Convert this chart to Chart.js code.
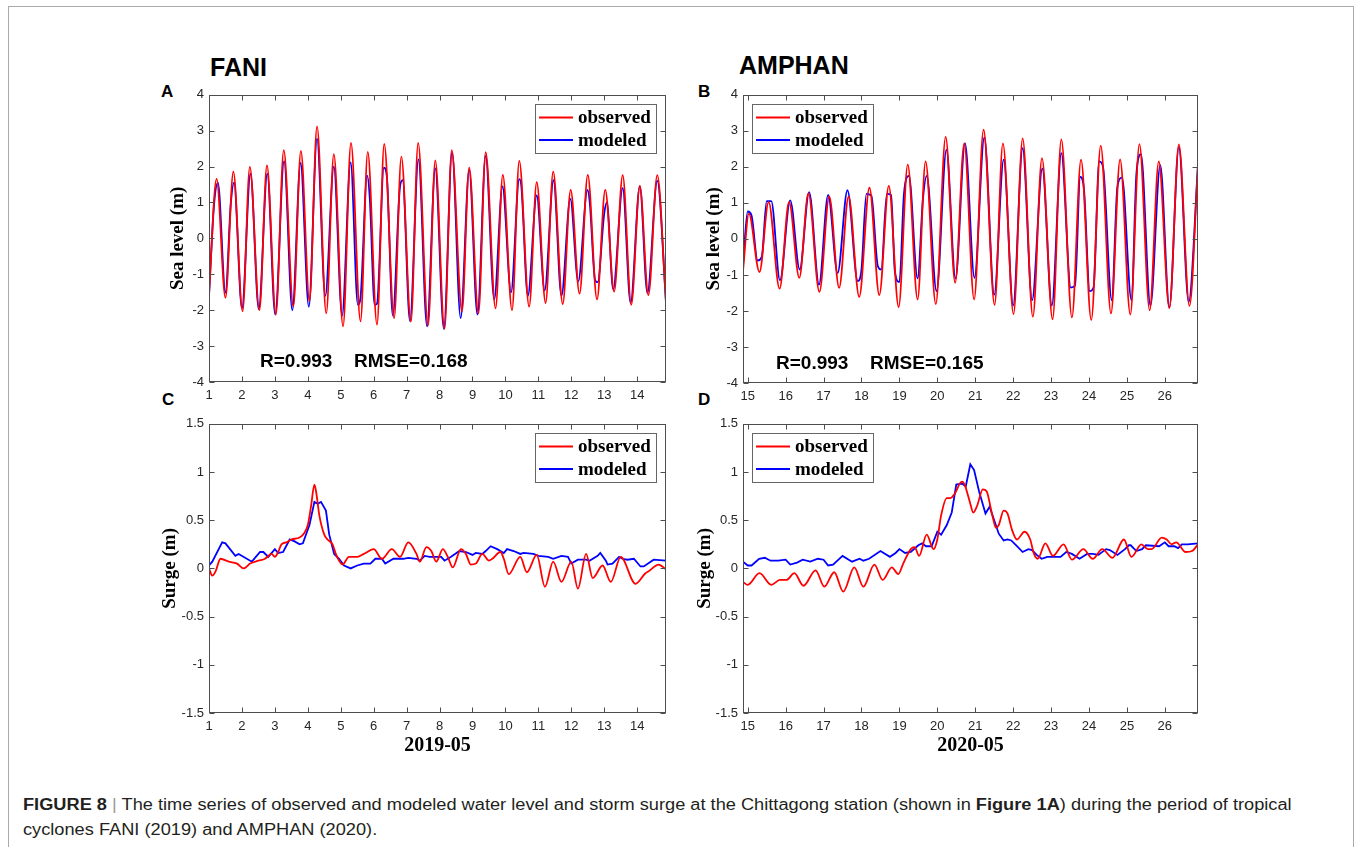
<!DOCTYPE html>
<html>
<head>
<meta charset="utf-8">
<script src="https://cdn.jsdelivr.net/npm/chart.js@4.4.1/dist/chart.umd.min.js"></script>
<style>
  body { margin: 0; background: #fff; width: 1357px; height: 847px; position: relative; overflow: hidden; font-family: "Liberation Sans", Arial, sans-serif; }
  .frame { position: absolute; left: 8px; top: 6px; width: 1344px; height: 900px; border: 1.5px solid #aaa; }
  canvas { position: absolute; }
  .txt { position: absolute; white-space: nowrap; line-height: 1; font-weight: bold; color: #000; }
  .cap { position: absolute; left: 23px; white-space: nowrap; font-size: 16px; line-height: 1; color: #231f20; transform-origin: 0 0; }
  .cap .bar { color: #999; }
</style>
</head>
<body>
<div class="frame"></div>

<div class="txt" style="left:210px; top:55px; font-size:25px;">FANI</div>
<div class="txt" style="left:739px; top:53px; font-size:25px;">AMPHAN</div>
<div class="txt" style="left:161px; top:83px; font-size:17px;">A</div>
<div class="txt" style="left:698px; top:83px; font-size:17px;">B</div>
<div class="txt" style="left:162px; top:391px; font-size:17px;">C</div>
<div class="txt" style="left:698px; top:391px; font-size:17px;">D</div>

<canvas id="panelA" width="526" height="325" style="left:150px; top:82px;"></canvas>
<canvas id="panelB" width="518" height="326" style="left:690px; top:82px;"></canvas>
<canvas id="panelC" width="526" height="351" style="left:150px; top:411px;"></canvas>
<canvas id="panelD" width="518" height="351" style="left:690px; top:411px;"></canvas>

<div class="cap" id="cap1" style="top:797px;"><b>FIGURE 8</b> <span class="bar">|</span> The time series of observed and modeled water level and storm surge at the Chittagong station (shown in <b>Figure 1A</b>) during the period of tropical</div>
<div class="cap" id="cap2" style="top:822px;">cyclones FANI (2019) and AMPHAN (2020).</div>

<script>
// ---- tick labels ----
const faniDays = [1, 2, 3, 4, 5, 6, 7, 8, 9, 10, 11, 12, 13, 14];
const amphanDays = [15, 16, 17, 18, 19, 20, 21, 22, 23, 24, 25, 26];
const levelTicks = [-4, -3, -2, -1, 0, 1, 2, 3, 4];
const surgeTicks = [-1.5, -1, -0.5, 0, 0.5, 1, 1.5];

// ---- A: FANI sea level (day of 2019-05, m) ----
const faniObsDay = [1.00, 1.23, 1.50, 1.74, 2.02, 2.24, 2.53, 2.76, 3.03, 3.27, 3.56, 3.79, 4.05, 4.28, 4.56, 4.79, 5.07, 5.31, 5.60, 5.82, 6.10, 6.32, 6.62, 6.84, 7.13, 7.35, 7.65, 7.87, 8.15, 8.37, 8.68, 8.90, 9.18, 9.40, 9.70, 9.92, 10.20, 10.42, 10.72, 10.95, 11.22, 11.45, 11.74, 11.98, 12.25, 12.50, 12.78, 13.03, 13.30, 13.56, 13.82, 14.08, 14.34, 14.61, 14.875];
const faniObsLevel = [-1.55, 1.66, -1.65, 1.86, -2.03, 1.99, -2.00, 2.03, -2.12, 2.46, -1.89, 2.44, -1.74, 3.12, -2.09, 2.35, -2.45, 2.66, -2.31, 2.41, -2.40, 2.63, -2.22, 2.28, -2.32, 2.66, -2.43, 2.17, -2.52, 2.46, -2.03, 1.97, -2.09, 2.40, -1.95, 1.77, -2.00, 2.16, -1.90, 1.57, -1.80, 1.86, -1.83, 1.35, -1.54, 1.77, -1.70, 1.35, -1.48, 1.76, -1.85, 1.46, -1.58, 1.76, -1.81];
const faniModDay = [1.00, 1.15, 1.27, 1.50, 1.66, 1.76, 2.00, 2.26, 2.51, 2.77, 3.01, 3.28, 3.53, 3.78, 4.03, 4.28, 4.53, 4.79, 5.04, 5.30, 5.52, 5.60, 5.80, 5.88, 6.03, 6.10, 6.31, 6.40, 6.58, 6.80, 6.88, 7.10, 7.36, 7.62, 7.87, 8.13, 8.38, 8.64, 8.90, 9.15, 9.40, 9.66, 9.91, 10.17, 10.42, 10.48, 10.68, 10.95, 11.19, 11.46, 11.70, 11.97, 12.21, 12.49, 12.56, 12.72, 12.80, 13.00, 13.08, 13.27, 13.56, 13.80, 14.08, 14.31, 14.61, 14.875];
const faniModLevel = [-1.60, 0.90, 1.55, -1.51, 0.95, 1.55, -1.95, 1.80, -1.97, 1.80, -2.12, 2.15, -2.00, 2.10, -1.90, 2.78, -1.60, 2.00, -2.15, 2.12, -1.85, -1.65, 1.75, 1.15, -1.85, -1.82, 1.97, 1.72, -2.15, 1.45, 1.62, -2.30, 2.20, -2.45, 1.95, -2.52, 2.40, -2.22, 1.90, -2.12, 2.30, -1.70, 1.45, -1.50, 1.65, 1.48, -1.60, 1.20, -1.45, 1.62, -1.60, 1.10, -1.20, 1.35, 1.00, -1.15, -1.22, 0.70, 1.00, -1.42, 1.40, -1.80, 1.45, -1.52, 1.60, -1.75];

// ---- B: AMPHAN sea level (day of 2020-05, m) ----
const amphanObsDay = [14.875, 15.03, 15.31, 15.55, 15.84, 16.09, 16.36, 16.60, 16.89, 17.15, 17.41, 17.66, 17.94, 18.21, 18.47, 18.72, 18.98, 19.22, 19.48, 19.69, 19.96, 20.22, 20.47, 20.71, 20.97, 21.22, 21.51, 21.73, 22.01, 22.25, 22.52, 22.76, 23.04, 23.27, 23.55, 23.79, 24.06, 24.31, 24.58, 24.82, 25.09, 25.33, 25.60, 25.84, 26.12, 26.37, 26.65, 26.875];
const amphanObsLevel = [-0.88, 0.70, -0.92, 1.03, -1.38, 1.03, -1.08, 1.27, -1.47, 1.18, -1.36, 1.18, -1.61, 1.42, -1.56, 1.47, -1.89, 2.06, -1.68, 2.15, -1.81, 2.83, -1.22, 2.65, -1.68, 3.03, -1.83, 2.65, -2.09, 2.79, -2.16, 2.24, -2.23, 2.76, -2.18, 2.20, -2.25, 2.59, -2.07, 2.21, -2.10, 2.63, -1.98, 2.15, -1.92, 2.62, -1.86, 2.06];
const amphanModDay = [14.875, 15.00, 15.10, 15.26, 15.37, 15.50, 15.62, 15.85, 16.12, 16.37, 16.62, 16.88, 17.12, 17.37, 17.63, 17.90, 18.00, 18.13, 18.26, 18.43, 18.52, 18.67, 18.78, 18.88, 19.00, 19.12, 19.25, 19.48, 19.62, 19.72, 19.98, 20.24, 20.48, 20.73, 20.98, 21.24, 21.50, 21.75, 22.00, 22.25, 22.50, 22.77, 23.02, 23.27, 23.52, 23.63, 23.77, 23.87, 24.02, 24.12, 24.27, 24.37, 24.60, 24.75, 24.87, 25.12, 25.25, 25.37, 25.62, 25.88, 26.12, 26.37, 26.63, 26.875];
const amphanModLevel = [-0.72, 0.76, 0.65, -0.60, -0.50, 1.05, 1.05, -1.15, 1.07, -0.85, 1.30, -1.27, 1.22, -0.95, 1.35, -1.17, -0.85, 1.25, 1.20, -0.75, -0.85, 1.25, 1.22, -0.90, -1.20, 1.25, 1.75, -1.10, 1.10, 1.75, -1.45, 2.47, -1.10, 2.65, -1.08, 2.82, -1.55, 2.20, -1.85, 2.52, -1.70, 1.95, -1.85, 2.38, -1.35, -1.30, 1.72, 1.35, -1.45, -1.35, 2.15, 2.00, -1.70, 1.45, 1.70, -1.70, 1.80, 2.35, -1.85, 2.05, -1.90, 2.55, -1.75, 2.05];

// ---- C: FANI surge (m) ----
const faniSurgeObsDay = [1.00, 1.10, 1.20, 1.35, 1.60, 1.85, 2.05, 2.25, 2.50, 2.70, 2.90, 3.00, 3.10, 3.20, 3.35, 3.50, 3.75, 3.90, 4.00, 4.10, 4.20, 4.25, 4.35, 4.50, 4.60, 4.75, 4.85, 4.95, 5.05, 5.25, 5.50, 5.70, 6.00, 6.25, 6.55, 6.80, 7.05, 7.30, 7.40, 7.60, 7.75, 7.90, 8.10, 8.25, 8.40, 8.65, 8.80, 8.95, 9.10, 9.30, 9.50, 9.60, 9.85, 9.95, 10.10, 10.45, 10.65, 10.95, 11.20, 11.45, 11.70, 12.00, 12.20, 12.45, 12.65, 12.95, 13.20, 13.50, 13.95, 14.25, 14.35, 14.65, 14.875];
const faniSurgeObs = [0.00, -0.075, -0.03, 0.10, 0.07, 0.05, 0.00, 0.05, 0.08, 0.10, 0.15, 0.12, 0.17, 0.25, 0.27, 0.30, 0.32, 0.37, 0.45, 0.65, 0.87, 0.80, 0.55, 0.35, 0.30, 0.25, 0.15, 0.08, 0.04, 0.12, 0.12, 0.15, 0.20, 0.10, 0.20, 0.12, 0.27, 0.15, 0.07, 0.22, 0.18, 0.07, 0.20, 0.12, 0.01, 0.20, 0.15, 0.04, 0.05, 0.15, 0.08, 0.10, 0.17, 0.10, -0.06, 0.12, -0.04, 0.14, -0.19, 0.07, -0.14, 0.07, -0.21, 0.15, -0.10, 0.03, -0.14, 0.12, -0.16, -0.05, -0.03, 0.04, -0.01];
const faniSurgeModDay = [1.00, 1.10, 1.40, 1.50, 1.80, 1.90, 2.30, 2.55, 2.65, 2.80, 3.00, 3.10, 3.25, 3.45, 3.60, 3.75, 3.85, 4.05, 4.20, 4.30, 4.40, 4.55, 4.65, 4.80, 4.95, 5.10, 5.30, 5.50, 5.70, 5.90, 6.05, 6.25, 6.35, 6.60, 6.90, 7.05, 7.30, 7.40, 7.55, 7.70, 8.05, 8.15, 8.35, 8.60, 8.80, 9.00, 9.10, 9.30, 9.40, 9.55, 9.75, 9.95, 10.05, 10.25, 10.45, 10.55, 10.85, 11.00, 11.30, 11.45, 11.70, 11.90, 12.00, 12.20, 12.45, 12.55, 12.80, 12.88, 13.05, 13.10, 13.25, 13.45, 13.55, 13.70, 13.90, 14.10, 14.20, 14.50, 14.875];
const faniSurgeMod = [0.03, 0.07, 0.27, 0.26, 0.13, 0.15, 0.07, 0.17, 0.17, 0.12, 0.20, 0.16, 0.17, 0.30, 0.28, 0.25, 0.26, 0.45, 0.69, 0.67, 0.69, 0.60, 0.35, 0.15, 0.10, 0.03, 0.00, 0.03, 0.05, 0.05, 0.10, 0.10, 0.05, 0.10, 0.10, 0.11, 0.10, 0.08, 0.13, 0.12, 0.12, 0.08, 0.12, 0.18, 0.17, 0.14, 0.16, 0.15, 0.18, 0.23, 0.20, 0.16, 0.20, 0.18, 0.15, 0.16, 0.15, 0.13, 0.12, 0.10, 0.13, 0.12, 0.05, 0.09, 0.09, 0.08, 0.13, 0.16, 0.08, 0.04, 0.05, 0.12, 0.10, 0.09, 0.10, 0.02, 0.02, 0.09, 0.08];

// ---- D: AMPHAN surge (m) ----
const amphanSurgeObsDay = [14.875, 15.00, 15.31, 15.62, 15.85, 16.02, 16.23, 16.47, 16.79, 17.02, 17.28, 17.52, 17.81, 18.05, 18.34, 18.56, 18.80, 18.97, 19.10, 19.30, 19.40, 19.52, 19.72, 19.90, 20.00, 20.10, 20.25, 20.35, 20.45, 20.65, 20.72, 20.85, 20.95, 21.05, 21.20, 21.30, 21.45, 21.55, 21.62, 21.75, 21.85, 21.97, 22.10, 22.30, 22.45, 22.55, 22.65, 22.85, 23.05, 23.33, 23.55, 23.85, 24.10, 24.35, 24.62, 24.92, 25.12, 25.38, 25.55, 25.65, 25.92, 26.05, 26.18, 26.30, 26.55, 26.72, 26.875];
const amphanSurgeObs = [-0.14, -0.17, -0.05, -0.17, -0.12, -0.12, -0.05, -0.18, -0.02, -0.19, -0.04, -0.24, 0.01, -0.19, 0.04, -0.12, 0.01, -0.06, 0.05, 0.20, 0.22, 0.13, 0.35, 0.20, 0.30, 0.55, 0.73, 0.73, 0.77, 0.90, 0.87, 0.70, 0.58, 0.65, 0.82, 0.80, 0.55, 0.42, 0.45, 0.60, 0.57, 0.40, 0.30, 0.38, 0.30, 0.15, 0.10, 0.26, 0.13, 0.25, 0.09, 0.20, 0.10, 0.20, 0.11, 0.30, 0.12, 0.25, 0.20, 0.20, 0.32, 0.30, 0.25, 0.27, 0.17, 0.18, 0.25];
const amphanSurgeModDay = [14.875, 15.00, 15.10, 15.30, 15.45, 15.60, 15.80, 16.00, 16.12, 16.30, 16.45, 16.65, 16.85, 17.00, 17.12, 17.25, 17.50, 17.75, 17.95, 18.05, 18.20, 18.50, 18.75, 18.90, 19.00, 19.15, 19.30, 19.50, 19.60, 19.70, 19.85, 20.00, 20.10, 20.25, 20.38, 20.50, 20.65, 20.75, 20.87, 20.97, 21.10, 21.27, 21.38, 21.50, 21.62, 21.75, 21.85, 21.95, 22.10, 22.25, 22.40, 22.50, 22.62, 22.75, 22.90, 23.25, 23.40, 23.55, 23.75, 23.95, 24.10, 24.25, 24.45, 24.55, 24.75, 24.95, 25.05, 25.10, 25.25, 25.40, 25.50, 25.85, 26.00, 26.10, 26.25, 26.35, 26.45, 26.60, 26.875];
const amphanSurgeMod = [0.07, 0.03, 0.03, 0.10, 0.11, 0.08, 0.08, 0.09, 0.04, 0.06, 0.09, 0.07, 0.10, 0.09, 0.03, 0.04, 0.13, 0.07, 0.10, 0.08, 0.10, 0.18, 0.12, 0.16, 0.20, 0.16, 0.17, 0.24, 0.26, 0.23, 0.23, 0.38, 0.35, 0.45, 0.58, 0.87, 0.88, 0.85, 1.08, 1.02, 0.80, 0.57, 0.64, 0.50, 0.36, 0.29, 0.30, 0.29, 0.23, 0.17, 0.20, 0.19, 0.14, 0.10, 0.12, 0.12, 0.17, 0.15, 0.10, 0.15, 0.15, 0.14, 0.20, 0.19, 0.14, 0.20, 0.24, 0.24, 0.18, 0.20, 0.24, 0.23, 0.27, 0.23, 0.23, 0.21, 0.25, 0.25, 0.26];

const SANS = "'Liberation Sans', Arial, sans-serif";
const SERIF = "'Liberation Serif', 'Times New Roman', serif";
const OBS_COLOR = "#ff0000";
const MOD_COLOR = "#0000ff";

const pts = (xs, ys) => xs.map((x, i) => ({ x, y: ys[i] }));

// axis box with inward ticks on all four sides, like matlab
const boxPlugin = {
  id: "matlabBox",
  afterDraw(chart) {
    const { ctx, chartArea: a, scales: { x, y } } = chart;
    const L = Math.round(a.left) + 0.5, R = Math.round(a.right) - 0.5;
    const T = Math.round(a.top) + 0.5, B = Math.round(a.bottom) - 0.5;
    ctx.save();
    ctx.strokeStyle = "#4d4d4d";
    ctx.lineWidth = 1;
    ctx.beginPath();
    x.ticks.forEach((t) => {
      const px = Math.round(x.getPixelForValue(t.value)) + 0.5;
      ctx.moveTo(px, B); ctx.lineTo(px, B - 5);
      ctx.moveTo(px, T); ctx.lineTo(px, T + 5);
    });
    y.ticks.forEach((t) => {
      const py = Math.round(y.getPixelForValue(t.value)) + 0.5;
      ctx.moveTo(L, py); ctx.lineTo(L + 5, py);
      ctx.moveTo(R, py); ctx.lineTo(R - 5, py);
    });
    ctx.stroke();
    ctx.strokeRect(L, T, R - L, B - T);
    ctx.restore();
  },
};

const legendPlugin = {
  id: "boxLegend",
  afterDraw(chart, args, opts) {
    const { ctx, chartArea: a } = chart;
    const w = 121, h = 49;
    const left = opts.side === "left" ? Math.round(a.left) + 9 : Math.round(a.right) - 10 - w;
    const top = Math.round(a.top) + 9;
    ctx.save();
    ctx.fillStyle = "#fff";
    ctx.fillRect(left, top, w, h);
    ctx.strokeStyle = "#666";
    ctx.lineWidth = 1;
    ctx.strokeRect(left + 0.5, top + 0.5, w, h);
    ctx.font = `bold 19px ${SERIF}`;
    ctx.textBaseline = "middle";
    chart.data.datasets.forEach((ds, i) => {
      const cy = top + 13.5 + i * 22.5;
      ctx.strokeStyle = ds.borderColor;
      ctx.lineWidth = 2;
      ctx.beginPath();
      ctx.moveTo(left + 4, cy);
      ctx.lineTo(left + 38, cy);
      ctx.stroke();
      ctx.fillStyle = "#000";
      ctx.fillText(ds.label, left + 43, cy + 1);
    });
    ctx.restore();
  },
};

const statsPlugin = {
  id: "statsText",
  afterDraw(chart, args, opts) {
    if (!opts.items) return;
    const { ctx, chartArea: a } = chart;
    ctx.save();
    ctx.font = `bold 19px ${SANS}`;
    ctx.fillStyle = "#000";
    ctx.textBaseline = "alphabetic";
    opts.items.forEach((it) => ctx.fillText(it.text, a.left + it.dx, a.top + it.dy));
    ctx.restore();
  },
};

function makePanel(id, cfg) {
  const tickFont = { family: SANS, size: 13 };
  return new Chart(document.getElementById(id), {
    type: "line",
    data: {
      datasets: [
        { label: "observed", data: cfg.obs, borderColor: OBS_COLOR, borderWidth: 1.8, pointRadius: 0, fill: false,
          cubicInterpolationMode: "monotone", tension: 0.4 },
        { label: "modeled", data: cfg.mod, borderColor: MOD_COLOR, borderWidth: 1.8, pointRadius: 0, fill: false,
          cubicInterpolationMode: cfg.modSmooth ? "monotone" : "default", tension: cfg.modSmooth ? 0.4 : 0 },
      ],
    },
    options: {
      responsive: false,
      animation: false,
      events: [],
      layout: { padding: { top: 9, right: 10, bottom: 0, left: 0 } },
      plugins: {
        legend: { display: false },
        tooltip: { enabled: false },
        boxLegend: { side: cfg.legendSide },
        statsText: { items: cfg.stats },
      },
      scales: {
        x: {
          type: "linear",
          min: cfg.xMin,
          max: cfg.xMax,
          afterBuildTicks: (s) => { s.ticks = cfg.xTicks.map((v) => ({ value: v })); },
          afterFit: (s) => { s.height = cfg.xHeight; },
          grid: { display: false, drawTicks: false },
          border: { display: false },
          ticks: { padding: 6, font: tickFont, color: "#262626", maxRotation: 0, autoSkip: false, callback: (v) => String(v) },
          title: cfg.xTitle
            ? { display: true, text: cfg.xTitle, color: "#000", font: { family: SERIF, size: 20, weight: "bold" }, padding: { top: 0, bottom: 4 } }
            : { display: false },
        },
        y: {
          type: "linear",
          min: cfg.yTicks[0],
          max: cfg.yTicks[cfg.yTicks.length - 1],
          afterBuildTicks: (s) => { s.ticks = cfg.yTicks.map((v) => ({ value: v })); },
          afterFit: (s) => { s.width = cfg.yWidth; },
          grid: { display: false, drawTicks: false },
          border: { display: false },
          ticks: { padding: 5, font: tickFont, color: "#262626", autoSkip: false, callback: (v) => String(v) },
          title: { display: true, text: cfg.yTitle, color: "#000", font: { family: SERIF, size: 19, weight: "bold" }, padding: { top: cfg.yTitlePad, bottom: 0 } },
        },
      },
    },
    plugins: [boxPlugin, legendPlugin, statsPlugin],
  });
}

makePanel("panelA", {
  obs: pts(faniObsDay, faniObsLevel), mod: pts(faniModDay, faniModLevel), modSmooth: true,
  xMin: 1, xMax: 14.875, xTicks: faniDays, yTicks: levelTicks,
  xHeight: 25, yWidth: 59, yTitle: "Sea level (m)", yTitlePad: 17, legendSide: "right",
  stats: [{ text: "R=0.993", dx: 51, dy: 272 }, { text: "RMSE=0.168", dx: 145, dy: 272 }],
});
makePanel("panelB", {
  obs: pts(amphanObsDay, amphanObsLevel), mod: pts(amphanModDay, amphanModLevel), modSmooth: true,
  xMin: 14.875, xMax: 26.875, xTicks: amphanDays, yTicks: levelTicks,
  xHeight: 25, yWidth: 53, yTitle: "Sea level (m)", yTitlePad: 12.5, legendSide: "left",
  stats: [{ text: "R=0.993", dx: 33, dy: 274 }, { text: "RMSE=0.165", dx: 127, dy: 274 }],
});
makePanel("panelC", {
  obs: pts(faniSurgeObsDay, faniSurgeObs), mod: pts(faniSurgeModDay, faniSurgeMod), modSmooth: false,
  xMin: 1, xMax: 14.875, xTicks: faniDays, yTicks: surgeTicks,
  xHeight: 49, yWidth: 59, yTitle: "Surge (m)", yTitlePad: 8.5, legendSide: "right",
  xTitle: "2019-05",
});
makePanel("panelD", {
  obs: pts(amphanSurgeObsDay, amphanSurgeObs), mod: pts(amphanSurgeModDay, amphanSurgeMod), modSmooth: false,
  xMin: 14.875, xMax: 26.875, xTicks: amphanDays, yTicks: surgeTicks,
  xHeight: 49, yWidth: 53, yTitle: "Surge (m)", yTitlePad: 3.5, legendSide: "left",
  xTitle: "2020-05",
});

// stretch caption to the reference line width
const cap1 = document.getElementById("cap1");
const cap2 = document.getElementById("cap2");
const sx = 1269 / cap1.scrollWidth;
cap1.style.transform = `scaleX(${sx})`;
cap2.style.transform = `scaleX(${sx})`;
</script>
</body>
</html>
